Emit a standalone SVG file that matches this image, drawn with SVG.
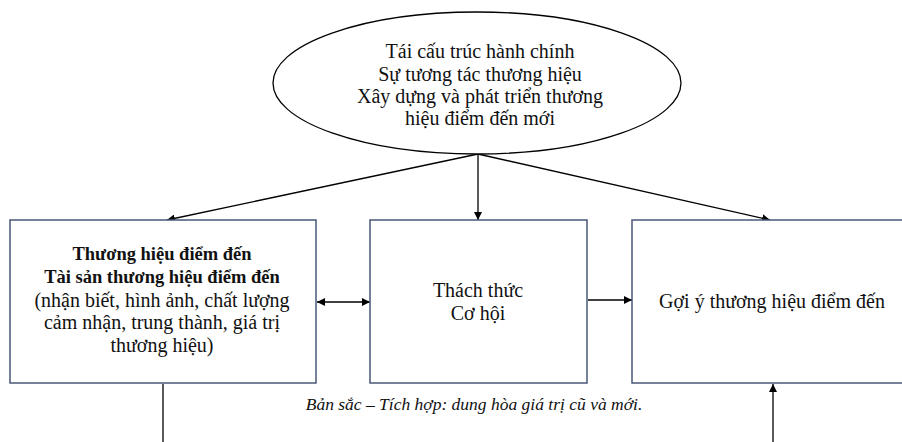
<svg xmlns="http://www.w3.org/2000/svg" width="902" height="442" viewBox="0 0 902 442">
<defs>
<marker id="ah" viewBox="0 0 10 10" refX="10" refY="5" markerWidth="8" markerHeight="8" markerUnits="userSpaceOnUse" orient="auto-start-reverse">
<path d="M0,0 L10,5 L0,10 z" fill="#000"/>
</marker>
<style>
.t{font-family:"Liberation Serif","Times New Roman",serif;font-size:20px;fill:#111;text-anchor:middle}
.b{font-weight:bold;font-size:18.5px}
.cap{font-family:"Liberation Serif","Times New Roman",serif;font-size:17.5px;font-style:italic;fill:#111;text-anchor:middle}
.box{fill:#fff;stroke:#4a5878;stroke-width:1.5}
.ln{stroke:#000;stroke-width:1.3;fill:none}
</style>
</defs>
<rect width="902" height="442" fill="#fff"/>
<g id="connectors">
<line class="ln" x1="478" y1="154" x2="167" y2="220" marker-end="url(#ah)"/>
<line class="ln" x1="478" y1="154" x2="478" y2="220" marker-end="url(#ah)"/>
<line class="ln" x1="478" y1="154" x2="770" y2="220" marker-end="url(#ah)"/>
<line class="ln" x1="317" y1="302" x2="370" y2="302" marker-start="url(#ah)" marker-end="url(#ah)"/>
<line class="ln" x1="588" y1="300" x2="632" y2="300" marker-end="url(#ah)"/>
<line class="ln" x1="163" y1="384" x2="163" y2="442"/>
<line class="ln" x1="773" y1="442" x2="773" y2="384" marker-end="url(#ah)"/>
</g>
<g id="ellipse">
<ellipse cx="477" cy="83" rx="204" ry="71" fill="#fff" stroke="#000" stroke-width="1.3"/>
<text class="t" x="480" y="58">Tái cấu trúc hành chính</text>
<text class="t" x="480" y="81">Sự tương tác thương hiệu</text>
<text class="t" x="480" y="103">Xây dựng và phát triển thương</text>
<text class="t" x="480" y="125">hiệu điểm đến mới</text>
</g>
<g id="left-box">
<rect class="box" x="10" y="220" width="306" height="163"/>
<text class="t b" x="162" y="260">Thương hiệu điểm đến</text>
<text class="t b" x="162" y="283">Tài sản thương hiệu điểm đến</text>
<text class="t" x="162" y="307">(nhận biết, hình ảnh, chất lượng</text>
<text class="t" x="162" y="329">cảm nhận, trung thành, giá trị</text>
<text class="t" x="162" y="352">thương hiệu)</text>
</g>
<g id="middle-box">
<rect class="box" x="370" y="220" width="217" height="163"/>
<text class="t" x="478" y="297">Thách thức</text>
<text class="t" x="478" y="320">Cơ hội</text>
</g>
<g id="right-box">
<rect class="box" x="632" y="220" width="290" height="163"/>
<text class="t" x="772" y="308">Gợi ý thương hiệu điểm đến</text>
</g>
<g id="caption">
<text class="cap" x="474" y="410">Bản sắc – Tích hợp: dung hòa giá trị cũ và mới.</text>
</g>
</svg>
